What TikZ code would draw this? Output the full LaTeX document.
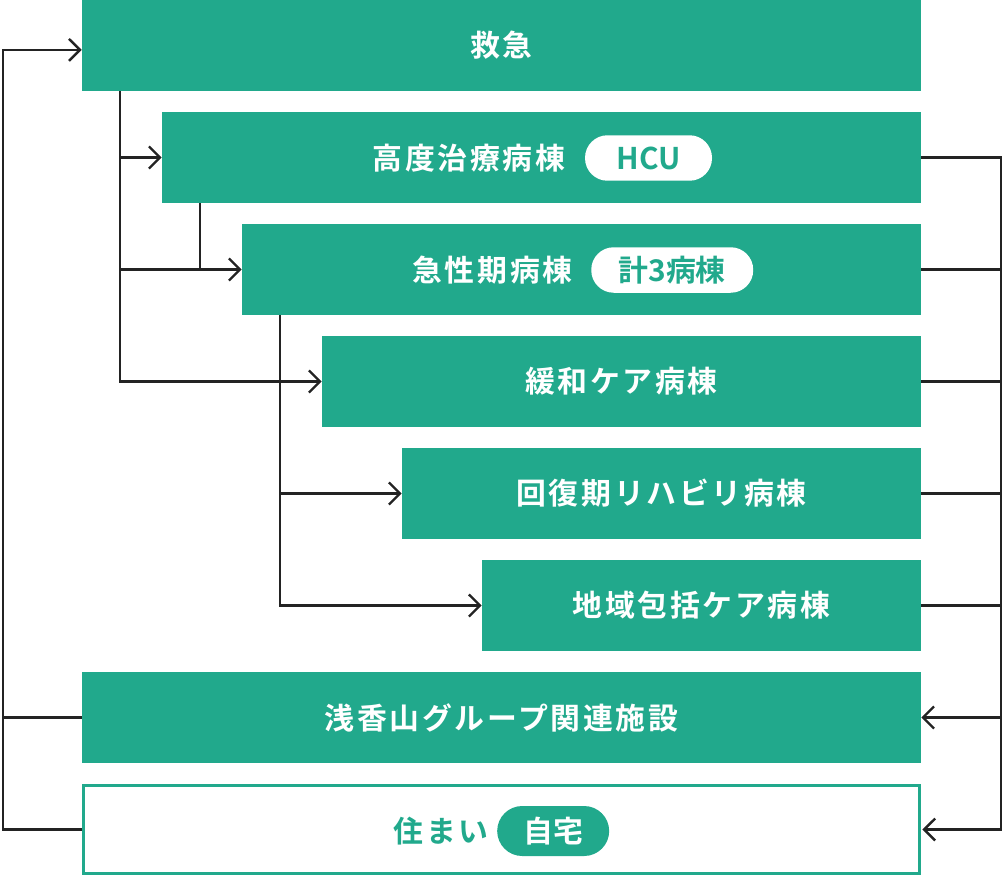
\documentclass[tikz,border=0pt]{standalone}
\usepackage{fontspec}
\usepackage{tikz}
\usetikzlibrary{arrows.meta,positioning}

\newfontfamily\jpfont[BoldFont={Noto Sans CJK JP Bold},LetterSpace=9]{Noto Sans CJK JP}
\newfontfamily\pillfont[BoldFont={Noto Sans CJK JP Bold}]{Noto Sans CJK JP}
\definecolor{wardgreen}{HTML}{21A98C}
\definecolor{linkgray}{HTML}{232323}

\begin{document}
\begin{tikzpicture}[x=0.02cm,y=-0.02cm,
    ward/.style={fill=wardgreen,text=white,inner sep=0pt,minimum height=1.82cm,
      font=\jpfont\bfseries\fontsize{17}{20}\selectfont},
    wardtext/.style={inner sep=0pt,font=\jpfont\bfseries\fontsize{17}{20}\selectfont},
    pill/.style={fill=white,text=wardgreen,inner sep=0pt,rounded corners=0.45cm,
      minimum height=0.91cm,font=\pillfont\bfseries\fontsize{17}{20}\selectfont},
    link/.style={draw=linkgray,line width=1.35pt},
    arr/.style={link,-{Straight Barb[length=6.3pt,width=12.5pt,line width=1.35pt]}}
  ]
  \useasboundingbox (0,0) rectangle (1004,876);

  % wards
  \node[ward,minimum width=16.78cm] (er) at (501.5,45.5) {救急};
  \node[ward,minimum width=15.18cm] (hcu) at (541.5,157.5) {};
  \node[wardtext,text=white] (hcutext) at (469,158) {高度治療病棟};
  \node[pill,minimum width=2.54cm,right=0.38cm of hcutext] (hcupill) {HCU};

  \node[ward,minimum width=13.58cm] (acute) at (581.5,269.5) {};
  \node[wardtext,text=white] (acutetext) at (492.5,270) {急性期病棟};
  \node[pill,minimum width=3.24cm,right=0.36cm of acutetext] (acutepill) {計3病棟};

  \node[ward,minimum width=11.98cm] (palli) at (621.5,381.5) {緩和ケア病棟};
  \node[ward,minimum width=10.38cm] (rehab) at (661.5,493.5) {回復期リハビリ病棟};
  \node[ward,minimum width=8.78cm] (comm) at (701.5,605.5) {地域包括ケア病棟};

  % destinations
  \node[ward,minimum width=16.78cm] (group) at (501.5,717.5) {浅香山グループ関連施設};
  \node[draw=wardgreen,line width=1.7pt,inner sep=0pt,minimum width=16.72cm,
    minimum height=1.76cm] (home) at (501.5,829.5) {};
  \node[wardtext,text=wardgreen] (hometext) at (441,831) {住まい};
  \node[pill,fill=wardgreen,text=white,rounded corners=0.5cm,minimum width=2.24cm,
    minimum height=1cm,right=0.16cm of hometext] (homepill) {自宅};

  % bus lines
  \coordinate (lbus) at (3,0);
  \coordinate (rbus) at (1001,0);
  \coordinate (erdrop) at (120,0);
  \coordinate (hcudrop) at (200,0);
  \coordinate (acutedrop) at (280,0);

  \draw[arr] (home.west) -- (home.west -| lbus) |- ([yshift=-2.5]er.west);
  \draw[link] (group.west) -- (group.west -| lbus);

  \draw[arr] (erdrop |- er.south) |- (palli.west);
  \draw[arr] (erdrop |- hcu.west) -- (hcu.west);
  \draw[arr] (erdrop |- acute.west) -- (acute.west);
  \draw[link] (hcudrop |- hcu.south) -- (hcudrop |- acute.west);

  \draw[arr] (acutedrop |- acute.south) |- (comm.west);
  \draw[arr] (acutedrop |- rehab.west) -- (rehab.west);

  \draw[arr] (hcu.east) -- (hcu.east -| rbus) |- ([xshift=0.85pt]home.east);
  \foreach \w in {acute,palli,rehab,comm}{
    \draw[link] (\w.east) -- (\w.east -| rbus);
  }
  \draw[arr] (rbus |- group.east) -- (group.east);
\end{tikzpicture}
\end{document}
